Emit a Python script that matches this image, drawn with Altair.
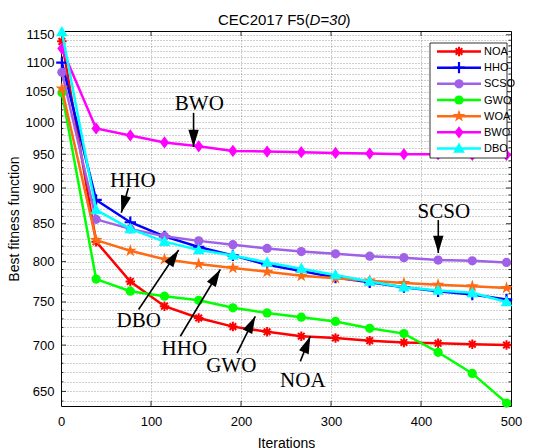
import altair as alt
import pandas as pd

# ---------------- data ----------------
iters = [1, 39, 77, 115, 153, 191, 229, 267, 305, 343, 381, 419, 457, 495, 500]
n_markers = 14  # the last line point (500) carries no marker

names = ["NOA", "HHO", "SCSO", "GWO", "WOA", "BWO", "DBO"]
NOA = [1138, 826, 775, 745, 731, 721, 715, 710, 708, 705, 703, 702, 701, 700, 700]
HHO = [1100, 883, 852, 833, 819, 808, 796, 788, 780, 774, 768, 763, 759, 753, 752]
SCSO = [1083, 856, 843, 833, 827, 822, 817, 813, 810, 807, 805, 802, 801, 799, 798]
GWO = [1048, 778, 763, 757, 752, 743, 737, 732, 727, 719, 713, 692, 669, 638, 636]
WOA = [1055, 828, 814, 803, 797, 792, 787, 782, 779, 776, 773, 771, 769, 767, 766]
BWO = [1125, 990, 979, 968, 962, 955, 954, 953, 952, 951, 950, 950, 949, 949, 949]
DBO = [1155, 869, 843, 826, 815, 808, 799, 791, 783, 775, 768, 764, 761, 750, 748]
series = [NOA, HHO, SCSO, GWO, WOA, BWO, DBO]

colors = ["#ff0000", "#0000ff", "#a060e8", "#00ff00", "#ff6a14", "#ff00ff", "#00ffff"]

x_ticks = [0, 100, 200, 300, 400, 500]
y_minor = list(range(640, 1151, 10))

# annotations (text label position, arrow tail -> tip, in data units)
ann_text = ["BWO", "HHO", "SCSO", "DBO", "HHO", "GWO", "NOA"]
ann_iter = [153.7, 79.8, 425.4, 86.4, 137.0, 189.2, 268.7]
ann_val = [1020, 902, 858, 720, 689, 670, 655]
arr_iter = [147.3, 74.8, 419.2, 86.2, 132.6, 195.6, 265.9]
arr_val = [1015, 900, 855, 741, 710, 691, 682]
tip_iter = [147.3, 67.0, 419.2, 130.7, 177.0, 215.9, 277.0]
tip_val = [961, 865, 811, 815, 790, 733, 710]
tip_angle = [180, 195.6, 180, 33.7, 31, 26.6, 21.8]

# ---------------- styles ----------------
STAR = ("M0,-1L0.2233,-0.3074L0.9511,-0.309L0.3614,0.1174L0.5878,0.809L0,0.38"
        "L-0.5878,0.809L-0.3614,0.1174L-0.9511,-0.309L-0.2233,-0.3074Z")
marker_style = {
    "NOA": dict(shape="M-1,0L1,0M0,-1L0,1M-0.7,-0.7L0.7,0.7M-0.7,0.7L0.7,-0.7", size=90, filled=False, strokeWidth=2),
    "HHO": dict(shape="M-1,0L1,0M0,-1L0,1", size=130, filled=False, strokeWidth=2.2),
    "SCSO": dict(shape="circle", size=85, filled=True),
    "GWO": dict(shape="circle", size=85, filled=True),
    "WOA": dict(shape=STAR, size=180, filled=True),
    "BWO": dict(shape="M0,-1L0.75,0L0,1L-0.75,0Z", size=150, filled=True),
    "DBO": dict(shape="M0,-1L0.95,0.7L-0.95,0.7Z", size=150, filled=True),
}

LAB_FONT = "Liberation Sans"
SERIF = "Liberation Serif"
GRID = dict(grid=True, gridColor="#222222", gridOpacity=0.55, gridDash=[1, 2], gridWidth=0.8)

xaxis = alt.Axis(values=x_ticks, ticks=False, domain=False, labelFont=LAB_FONT, labelFontSize=13,
                 labelColor="black", labelPadding=9, title="Iterations", titleFont=LAB_FONT,
                 titleFontSize=14, titleFontWeight="normal", titleColor="black", titleY=41,
                 titleBaseline="alphabetic", labelFlush=False, **GRID)
yaxis = alt.Axis(values=y_minor, ticks=False, domain=False, labelFont=LAB_FONT, labelFontSize=13,
                 labelColor="black", labelPadding=7,
                 labelExpr="datum.value % 50 === 0 ? format(datum.value, 'd') : ''",
                 title="Best fitness function", titleFont=LAB_FONT, titleFontSize=14,
                 titleFontWeight="normal", titleColor="black", titleX=-47, titleY=187.5,
                 titleAlign="center", titleBaseline="middle", labelFlush=False, **GRID)

xs = alt.Scale(domain=[0, 500], nice=False, zero=False)
ys = alt.Scale(type="log", domain=[635, 1157], nice=False)


def X(field="iter"):
    return alt.X(f"{field}:Q", scale=xs, axis=xaxis)


def Y(field="value"):
    return alt.Y(f"{field}:Q", scale=ys, axis=yaxis)


layers = []

# inward tick marks on the frame
ytk = pd.DataFrame({"value": y_minor})
ytk_major = ytk[ytk["value"] % 50 == 0]
ytk_minor = ytk[ytk["value"] % 50 != 0]
for d, ln in [(ytk_major, 5), (ytk_minor, 2.5)]:
    layers.append(alt.Chart(d).mark_rule(color="black", strokeWidth=0.8).encode(
        y=Y(), x=alt.value(0), x2=alt.value(ln)))
    layers.append(alt.Chart(d).mark_rule(color="black", strokeWidth=0.8).encode(
        y=Y(), x=alt.value(450 - ln), x2=alt.value(450)))
xtk = pd.DataFrame({"iter": x_ticks[1:-1]})
layers.append(alt.Chart(xtk).mark_rule(color="black", strokeWidth=0.8).encode(
    x=X(), y=alt.value(370), y2=alt.value(375)))
layers.append(alt.Chart(xtk).mark_rule(color="black", strokeWidth=0.8).encode(
    x=X(), y=alt.value(0), y2=alt.value(5)))

# series: line + markers, drawn in legend order
for name, vals, col in zip(names, series, colors):
    df = pd.DataFrame({"iter": iters, "value": vals})
    layers.append(alt.Chart(df).mark_line(color=col, strokeWidth=2.5).encode(x=X(), y=Y()))
    st = marker_style[name]
    pt_kw = dict(shape=st["shape"], size=st["size"], filled=st["filled"], color=col, opacity=1)
    if not st["filled"]:
        pt_kw["strokeWidth"] = st["strokeWidth"]
    layers.append(alt.Chart(df.iloc[:n_markers]).mark_point(**pt_kw).encode(x=X(), y=Y()))

# annotations
ann = pd.DataFrame({"iter": ann_iter, "value": ann_val, "label": ann_text})
layers.append(alt.Chart(ann).mark_text(font=SERIF, fontSize=21, color="black", align="center",
                                       baseline="alphabetic").encode(x=X(), y=Y(), text="label:N"))
arr = pd.DataFrame({"iter": arr_iter, "value": arr_val, "iter2": tip_iter, "value2": tip_val,
                    "angle": tip_angle})
layers.append(alt.Chart(arr).mark_rule(color="black", strokeWidth=1.6).encode(
    x=X(), y=Y(), x2=alt.X2("iter2:Q"), y2=alt.Y2("value2:Q")))
layers.append(alt.Chart(arr).mark_point(shape="M0,0L-0.6,2L0.6,2Z", size=300, filled=True,
                                        color="black", opacity=1).encode(
    x=X("iter2"), y=Y("value2"), angle=alt.Angle("angle:Q", scale=None)))

# title with italic part
one = pd.DataFrame({"k": [0]})
for txt, xpos, style in [("CEC2017 F5(", 157, "normal"), ("D=30", 248.5, "italic"), (")", 284.5, "normal")]:
    layers.append(alt.Chart(one).mark_text(font=LAB_FONT, fontSize=15, fontStyle=style, color="black",
                                           align="left", baseline="alphabetic").encode(
        x=alt.value(xpos), y=alt.value(-6), text=alt.value(txt)))

# legend
layers.append(alt.Chart(one).mark_rect(fill="white", stroke="black", strokeWidth=0.8).encode(
    x=alt.value(369), x2=alt.value(446), y=alt.value(12), y2=alt.value(127)))
for i, (name, col) in enumerate(zip(names, colors)):
    ypos = 20.5 + i * 16.17
    layers.append(alt.Chart(one).mark_rule(color=col, strokeWidth=2.5).encode(
        x=alt.value(376), x2=alt.value(420), y=alt.value(ypos)))
    st = marker_style[name]
    pt_kw = dict(shape=st["shape"], size=st["size"], filled=st["filled"], color=col, opacity=1)
    if not st["filled"]:
        pt_kw["strokeWidth"] = st["strokeWidth"]
    layers.append(alt.Chart(one).mark_point(**pt_kw).encode(x=alt.value(398), y=alt.value(ypos)))
    layers.append(alt.Chart(one).mark_text(font=LAB_FONT, fontSize=11, color="black", align="left",
                                           baseline="middle").encode(
        x=alt.value(423), y=alt.value(ypos + 0.5), text=alt.value(name)))

chart = alt.layer(*layers).properties(
    width=450, height=375,
    autosize=alt.AutoSizeParams(type="none"),
    padding={"left": 61, "top": 31, "right": 41, "bottom": 42},
    background="white",
).configure_view(stroke="black", strokeWidth=1, fill="white")

chart.save("out.html", embed_options={"renderer": "svg", "actions": False})
